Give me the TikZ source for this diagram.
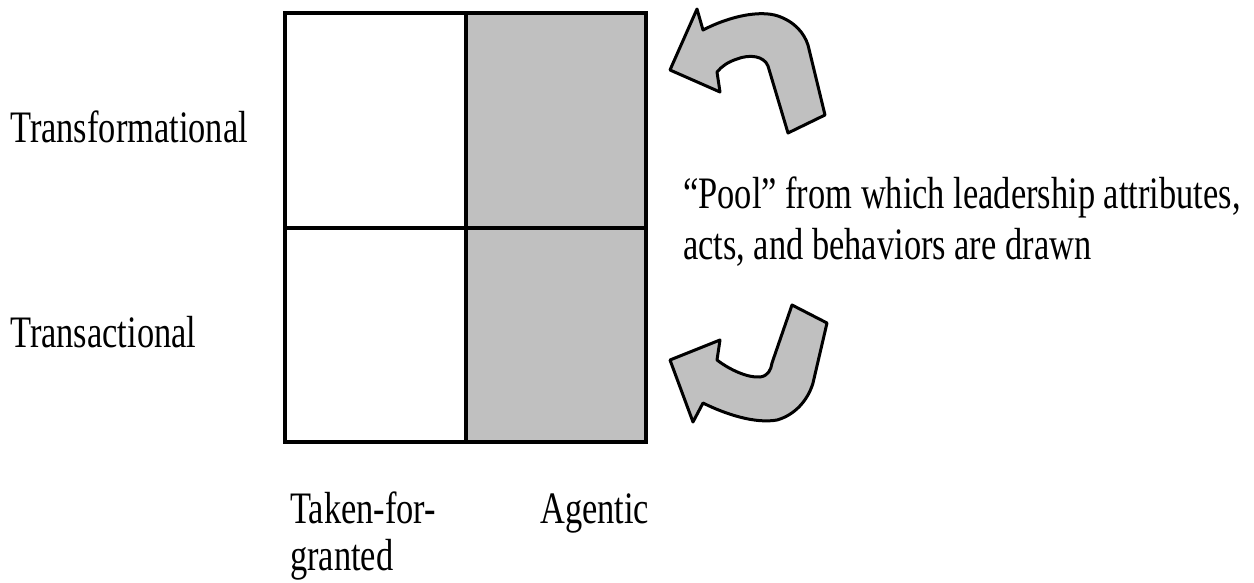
\documentclass[tikz,border=0pt]{standalone}
\usepackage{fontspec}
\setmainfont[FakeStretch=0.765]{Liberation Serif}
\begin{document}
\begin{tikzpicture}[x=1pt,y=-1pt,
  lbl/.style={inner sep=0pt,anchor=base west,font=\fontsize{45}{50}\selectfont},
  cell/.style={line width=3.2pt,draw=black},
  shade/.style={fill=shadegray},
  bigarrow/.style={fill=shadegray,draw=black,line width=3pt,line join=round}]
\definecolor{shadegray}{RGB}{192,192,192}
\useasboundingbox (0,0) rectangle (1254,583);
% shaded right column
\fill[shade] (466,13) rectangle (646,442);
% grid
\draw[cell] (285,13) rectangle (646,442);
\draw[cell] (466,13) -- (466,442);
\draw[cell] (285,228) -- (646,228);
% row labels
\node[lbl] (transf) at (10,143) {Transformational};
\node[lbl] (transa) at (10,347) {Transactional};
% column labels
\node[lbl] (taken) at (290,523) {Taken-for-};
\node[lbl] (granted) at (290,570) {granted};
\node[lbl] (agentic) at (540,523) {Agentic};
% pool text
\node[lbl] (pool1) at (683,209) {“Pool” from which leadership attributes,};
\node[lbl] (pool2) at (683,259) {acts, and behaviors are drawn};
% upper curved arrow
\draw[bigarrow] (670,70) -- (697,9) -- (703,30)
  .. controls (730,16) and (760,10) .. (778,16)
  .. controls (795,22) and (804,33) .. (808,45)
  -- (825,115) -- (788,133) -- (768,66)
  .. controls (764,56) and (750,54) .. (737,59)
  .. controls (728,62) and (722,66) .. (717,72)
  -- (720,92) -- cycle;
% lower curved arrow
\draw[bigarrow] (670,360) -- (720,340) -- (717,360)
  .. controls (730,370) and (748,378) .. (760,377)
  .. controls (768,376) and (771,370) .. (772,363)
  -- (792,305) -- (827,323) -- (813,383)
  .. controls (808,400) and (795,415) .. (777,420)
  .. controls (755,424) and (725,414) .. (703,403)
  -- (693,422) -- cycle;
\end{tikzpicture}
\end{document}
